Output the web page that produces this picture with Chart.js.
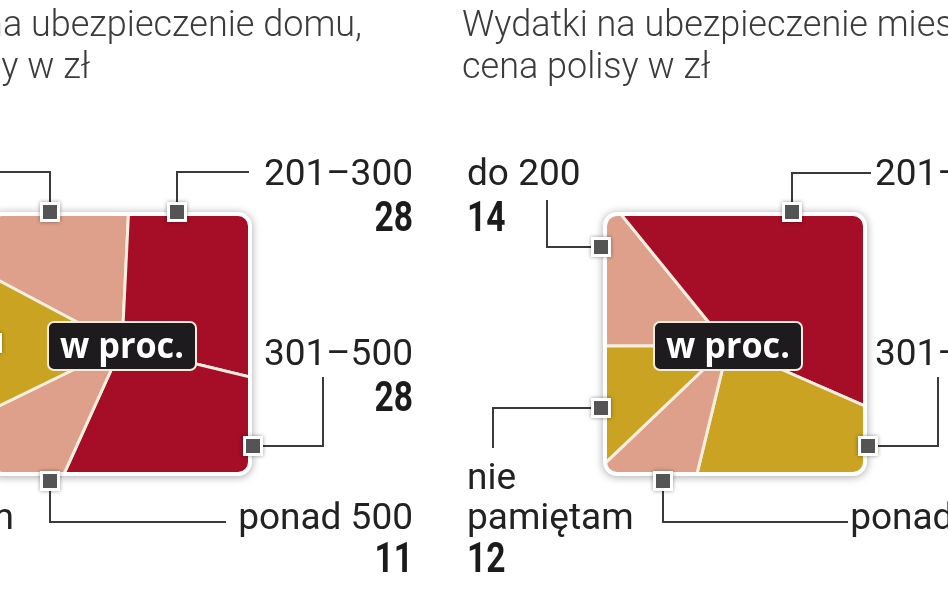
<!DOCTYPE html>
<html lang="pl">
<head>
<meta charset="utf-8">
<script src="https://cdn.jsdelivr.net/npm/chart.js@4.4.1/dist/chart.umd.min.js"></script>
<style>
  html, body { margin: 0; padding: 0; background: #fff; width: 948px; height: 593px; overflow: hidden; }
  .ramka { position: absolute; top: 0; width: 600px; height: 593px; }
</style>
</head>
<body>
<div class="ramka" style="left:-150px"><canvas id="wykresDom" width="600" height="593"></canvas></div>
<div class="ramka" style="left:440px"><canvas id="wykresMieszkanie" width="600" height="593"></canvas></div>
<script>
// dane
const kategorie = ['do 200', '201–300', '301–500', 'ponad 500', 'nie pamiętam'];
const wartosciDom = [18, 28, 28, 11, 15];
const wartosciMieszkanie = [14, 42, 22, 9, 12];
const tytulDom = ['Wydatki na ubezpieczenie domu,', 'cena polisy w zł'];
const tytulMieszkanie = ['Wydatki na ubezpieczenie mieszkania,', 'cena polisy w zł'];
const opisSrodka = 'w proc.';

const CZERWONY = '#a60d27';
const LOSOS = '#dea08b';
const ZLOTY = '#c9a321';

const FONT = 'Roboto, "Noto Sans", sans-serif';

function tekst(ctx, t, x, y, font, kolor, align, sx) {
    ctx.save();
    ctx.font = font;
    ctx.fillStyle = kolor;
    ctx.textAlign = align || 'left';
    ctx.textBaseline = 'alphabetic';
    ctx.translate(x, y);
    ctx.scale(sx || 1, 1);
    ctx.fillText(t, 0, 0);
    ctx.restore();
}

// pie przyciety do zaokraglonego kwadratu
const kwadratPlugin = {
    id: 'kwadrat',
    beforeDatasetsDraw(chart, args, opts) {
        const ctx = chart.ctx;
        const k = opts.box;
        ctx.save();
        ctx.shadowColor = 'rgba(0,0,0,0.35)';
        ctx.shadowBlur = 9;
        ctx.shadowOffsetY = 1;
        ctx.fillStyle = '#fff';
        ctx.beginPath();
        ctx.roundRect(k.x, k.y, k.s, k.s, 14);
        ctx.fill();
        ctx.restore();

        ctx.save();
        ctx.beginPath();
        ctx.roundRect(k.x + 4, k.y + 4, k.s - 8, k.s - 8, 10);
        ctx.clip();
    },
    afterDatasetsDraw(chart) {
        chart.ctx.restore();
    }
};

const opisyPlugin = {
    id: 'opisy',
    afterDraw(chart, args, opts) {
        const ctx = chart.ctx;
        const wartosci = chart.data.datasets[0].data;
        const luk = chart.getDatasetMeta(0).data[0];

        // tytul (dwie linie)
        opts.tytul.forEach((linia, i) => {
            tekst(ctx, linia, opts.tytulX[i], 36 + i * 42, '300 36px ' + FONT, '#3b3b3b', opts.tytulAlign, 1.0);
        });

        // linie odnosnikow
        ctx.save();
        ctx.strokeStyle = '#3a3a3a';
        ctx.lineWidth = 2;
        opts.odnosniki.forEach(o => {
            ctx.beginPath();
            ctx.moveTo(o.znacznik[0], o.znacznik[1]);
            o.linia.forEach(p => ctx.lineTo(p[0], p[1]));
            ctx.stroke();
        });
        ctx.restore();

        // znaczniki
        opts.odnosniki.forEach(o => {
            const [x, y] = o.znacznik;
            ctx.save();
            ctx.shadowColor = 'rgba(0,0,0,0.4)';
            ctx.shadowBlur = 4;
            ctx.fillStyle = '#fff';
            ctx.fillRect(x - 10, y - 10, 20, 20);
            ctx.restore();
            ctx.fillStyle = '#545454';
            ctx.fillRect(x - 7, y - 7, 14, 14);
        });

        // podpisy
        opts.odnosniki.forEach(o => {
            const nazwa = kategorie[o.i];
            const linie = o.lamanie ? nazwa.split(' ') : [nazwa];
            linie.forEach((l, j) => {
                tekst(ctx, l, o.tekst[0], o.tekst[1] + (j - linie.length + 1) * 40, '400 37px ' + FONT, '#222', o.align, 1);
            });
            tekst(ctx, String(wartosci[o.i]), o.liczba[0], o.liczba[1], '700 42px ' + FONT, '#1b1b1b', o.align, 0.8);
        });

        // etykieta w srodku
        const cx = luk.x, cy = luk.y;
        ctx.save();
        ctx.fillStyle = '#1d1b1d';
        ctx.strokeStyle = '#f3ecdc';
        ctx.lineWidth = 2;
        ctx.beginPath();
        ctx.roundRect(cx - 74, cy - 24, 148, 48, 6);
        ctx.fill();
        ctx.stroke();
        ctx.restore();
        tekst(ctx, opisSrodka, cx, cy + 12, '700 36px "Open Sans", ' + FONT, '#fff', 'center', 0.95);
    }
};

function wykres(id, przesuniecie, wartosci, kolory, obrot, srodek, kwadrat, tytul, tytulX, tytulAlign, odnosniki) {
    const R = 200;
    const cx = srodek[0] - przesuniecie;
    const cy = srodek[1];
    const p = pt => [pt[0] - przesuniecie, pt[1]];
    return new Chart(document.getElementById(id), {
        type: 'pie',
        data: {
            labels: kategorie,
            datasets: [{
                data: wartosci,
                backgroundColor: kolory,
                borderColor: '#f6eedf',
                borderWidth: 3,
                borderAlign: 'center'
            }]
        },
        options: {
            responsive: false,
            animation: false,
            events: [],
            rotation: obrot,
            layout: {
                padding: { left: cx - R, right: 600 - cx - R, top: cy - R, bottom: 593 - cy - R }
            },
            plugins: {
                legend: { display: false },
                tooltip: { enabled: false },
                kwadrat: { box: { x: kwadrat[0] - przesuniecie, y: kwadrat[1], s: kwadrat[2] } },
                opisy: {
                    tytul: tytul,
                    tytulX: tytulX.map(x => x - przesuniecie),
                    tytulAlign: tytulAlign,
                    odnosniki: odnosniki.map(o => ({
                        i: o.i,
                        lamanie: o.lamanie,
                        align: o.align,
                        znacznik: p(o.znacznik),
                        linia: o.linia.map(p),
                        tekst: p(o.tekst),
                        liczba: p(o.liczba)
                    }))
                }
            }
        },
        plugins: [kwadratPlugin, opisyPlugin]
    });
}

// wykres 1: dom (lewa strona)
wykres('wykresDom', -150, wartosciDom,
    [LOSOS, CZERWONY, CZERWONY, LOSOS, ZLOTY], -62,
    [122, 346], [-12, 212, 264], tytulDom, [362, 90], 'right',
    [
        { i: 0, znacznik: [50, 212], linia: [[50, 172], [-70, 172]], tekst: [-80, 185], liczba: [-80, 231], align: 'right' },
        { i: 1, znacznik: [177, 212], linia: [[177, 172], [249, 172]], tekst: [413, 185], liczba: [413, 231], align: 'right' },
        { i: 2, znacznik: [253, 446], linia: [[323, 446], [323, 377]], tekst: [413, 365], liczba: [413, 411], align: 'right' },
        { i: 3, znacznik: [50, 481], linia: [[50, 522], [226, 522]], tekst: [413, 529], liczba: [413, 572], align: 'right' },
        { i: 4, znacznik: [-8, 343], linia: [[-60, 343]], tekst: [14, 529], liczba: [-180, 572], align: 'right' }
    ]);

// wykres 2: mieszkanie (prawa strona)
wykres('wykresMieszkanie', 440, wartosciMieszkanie,
    [LOSOS, CZERWONY, ZLOTY, LOSOS, ZLOTY], -90,
    [728, 346], [603, 212, 264], tytulMieszkanie, [462, 462], 'left',
    [
        { i: 0, znacznik: [601, 247], linia: [[547, 247], [547, 200]], tekst: [467, 185], liczba: [467, 231], align: 'left' },
        { i: 1, znacznik: [792, 212], linia: [[792, 173], [871, 173]], tekst: [1024, 185], liczba: [1024, 231], align: 'right' },
        { i: 2, znacznik: [868, 446], linia: [[938, 446], [938, 377]], tekst: [1024, 365], liczba: [1024, 411], align: 'right' },
        { i: 3, znacznik: [663, 481], linia: [[663, 522], [848, 522]], tekst: [1025, 529], liczba: [1025, 572], align: 'right' },
        { i: 4, znacznik: [601, 408], linia: [[493, 408], [493, 448]], tekst: [467, 529], liczba: [467, 572], align: 'left', lamanie: true }
    ]);
</script>
</body>
</html>
